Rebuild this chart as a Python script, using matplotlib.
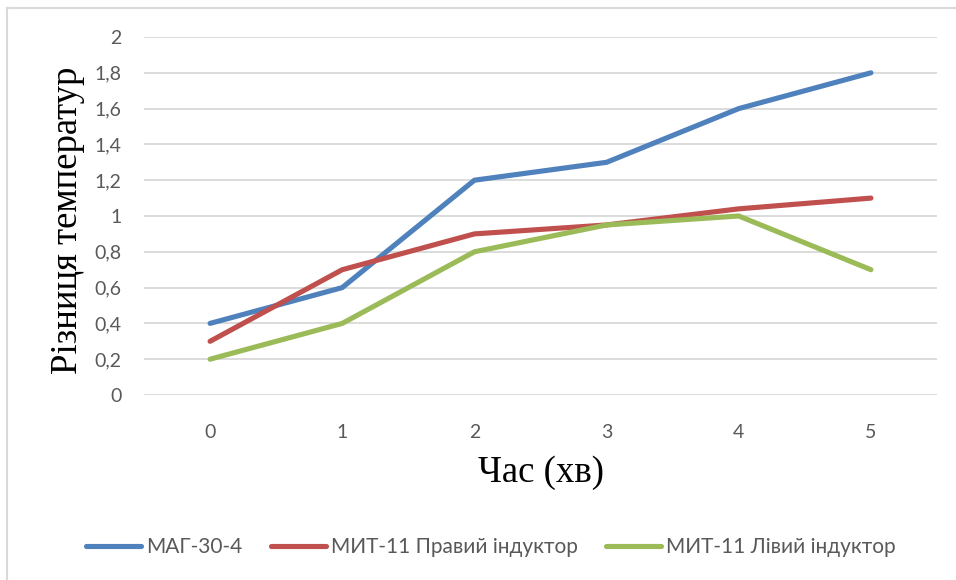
import matplotlib
matplotlib.use("Agg")
import matplotlib.pyplot as plt
from matplotlib.lines import Line2D

# time in minutes and temperature differences for each sensor
minutes = ["0", "1", "2", "3", "4", "5"]
mag_30_4 = [0.4, 0.6, 1.2, 1.3, 1.6, 1.8]
mit_right = [0.3, 0.7, 0.9, 0.95, 1.04, 1.1]
mit_left = [0.2, 0.4, 0.8, 0.95, 1.0, 0.7]

series_names = ["МАГ-30-4", "МИТ-11 Правий індуктор", "МИТ-11 Лівий індуктор"]
colors = ["#4F81BD", "#C0504D", "#9BBB59"]
y_ticks = [0, 0.2, 0.4, 0.6, 0.8, 1, 1.2, 1.4, 1.6, 1.8, 2]

W, H = 956, 580
fig = plt.figure(figsize=(W / 100, H / 100), dpi=100)
ax = fig.add_axes([144 / W, 1 - 395 / H, (937 - 144) / W, (395 - 37) / H])

x = list(range(len(minutes)))
for vals, name, c in zip([mag_30_4, mit_right, mit_left], series_names, colors):
    ax.plot(x, vals, color=c, lw=3.7, solid_capstyle="round",
            solid_joinstyle="round", label=name)

ax.set_xlim(-0.5, len(minutes) - 0.5)
ax.set_ylim(0, 2)
ax.set_xticks(x)
ax.set_xticklabels(minutes)
ax.set_yticks(y_ticks)
ax.set_yticklabels([("%g" % v).replace(".", ",") for v in y_ticks])
ax.grid(axis="y", color="#D9D9D9", lw=1.3)
ax.set_axisbelow(True)
for s in ax.spines.values():
    s.set_visible(False)
ax.tick_params(length=0, labelsize=14, labelcolor="#595959")
ax.tick_params(axis="x", pad=21)
ax.tick_params(axis="y", pad=16)
for lbl in ax.get_xticklabels() + ax.get_yticklabels():
    lbl.set_family("Lato")

ax.set_ylabel("Різниця температур", family="Liberation Serif", fontsize=26.5)
ax.yaxis.set_label_coords((85 - 144) / 793, (395 - 220) / 358)
ax.set_xlabel("Час (хв)", family="Liberation Serif", fontsize=26.5, labelpad=10)

fig.legend(loc="center", bbox_to_anchor=(491 / W, 1 - 547 / H), ncol=3, frameon=False,
           prop={"family": "Lato", "size": 15}, labelcolor="#595959",
           handlelength=2.64, handletextpad=0.25, columnspacing=1.35)

# light frame lines along the top and left
fig.add_artist(Line2D([7 / W, 1], [1 - 8 / H, 1 - 8 / H], color="#D9D9D9", lw=1.5))
fig.add_artist(Line2D([7 / W, 7 / W], [0, 1 - 8 / H], color="#D9D9D9", lw=1.5))

fig.savefig("out.png", dpi=100)
